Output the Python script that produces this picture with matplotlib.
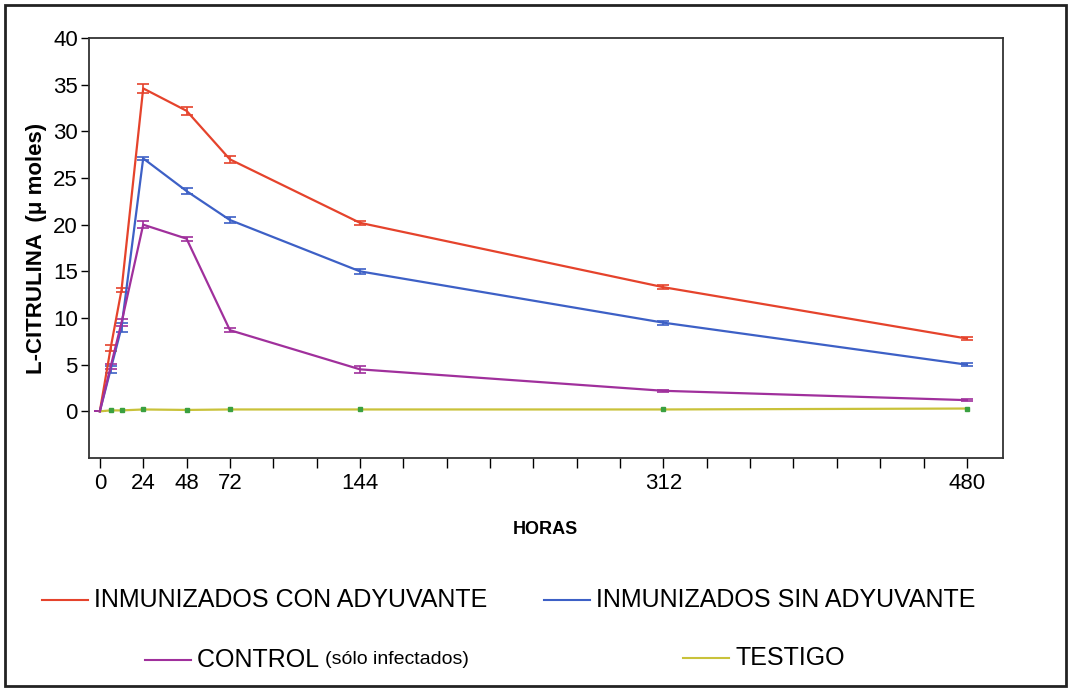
import numpy as np
import matplotlib.pyplot as plt
from matplotlib.lines import Line2D
from matplotlib.patches import Rectangle

horas = [0, 6, 12, 24, 48, 72, 144, 312, 480]

con_adyuvante = [0, 6.8, 13.0, 34.6, 32.2, 27.0, 20.2, 13.3, 7.8]
con_err = [0, 0.3, 0.2, 0.5, 0.4, 0.4, 0.2, 0.2, 0.2]

sin_adyuvante = [0, 4.5, 9.0, 27.1, 23.6, 20.5, 15.0, 9.5, 5.0]
sin_err = [0, 0.4, 0.5, 0.2, 0.3, 0.3, 0.3, 0.2, 0.15]

control = [0, 4.8, 9.5, 20.0, 18.5, 8.7, 4.5, 2.2, 1.2]
control_err = [0, 0.3, 0.4, 0.4, 0.2, 0.2, 0.4, 0.1, 0.1]

testigo = [0, 0.1, 0.1, 0.2, 0.15, 0.2, 0.2, 0.2, 0.3]

x_labels = [0, 24, 48, 72, 144, 312, 480]

c_red = '#e5432c'
c_blue = '#3d60c6'
c_purple = '#a0309c'
c_yel = '#c9c23a'
c_green = '#3aa040'

plt.rcParams['font.family'] = ['Liberation Sans', 'DejaVu Sans']

fig = plt.figure(figsize=(10.73, 6.89), dpi=100)
ax = fig.add_axes([89/1073, 1-458/689, (1003-89)/1073, (458-38)/689])

ax.errorbar(horas, con_adyuvante, yerr=con_err, color=c_red, lw=1.6, capsize=4, elinewidth=1.2, capthick=1.2)
ax.errorbar(horas, sin_adyuvante, yerr=sin_err, color=c_blue, lw=1.6, capsize=4, elinewidth=1.2, capthick=1.2)
ax.errorbar(horas, control, yerr=control_err, color=c_purple, lw=1.6, capsize=4, elinewidth=1.2, capthick=1.2)
ax.plot(horas, testigo, color=c_yel, lw=1.6)
ax.plot(horas[1:], testigo[1:], 's', color=c_green, ms=3, lw=0)

ax.set_xlim(-6, 500)
ax.set_ylim(-5, 40)
ax.set_yticks(range(0, 41, 5))
ax.set_xticks(range(0, 481, 24))
ax.set_xticklabels([str(t) if t in x_labels else '' for t in range(0, 481, 24)], fontsize=16)
ax.tick_params(axis='y', labelsize=16, length=6, width=1, pad=2)
ax.tick_params(axis='x', length=7, width=1, pad=4)
for s in ax.spines.values():
    s.set_linewidth(1.3)
    s.set_color('#333333')

ax.set_ylabel(u'L-CITRULINA  (\u03bc moles)', fontsize=16, fontweight='bold', labelpad=4)
fig.text(545/1073, 1-530/689, 'HORAS', ha='center', va='center', fontsize=13, fontweight='bold')

# legend drawn by hand below the plot
entries = [
    (c_red, 42, 600, 'INMUNIZADOS CON ADYUVANTE', None),
    (c_blue, 544, 600, 'INMUNIZADOS SIN ADYUVANTE', None),
    (c_purple, 145, 660, 'CONTROL ', '(s\u00f3lo infectados)'),
    (c_yel, 683, 658, 'TESTIGO', None),
]
for col, x0, y0, txt, small in entries:
    yy = 1 - y0/689
    fig.add_artist(Line2D([x0/1073, (x0+46)/1073], [yy, yy], color=col, lw=1.5))
    t = fig.text((x0+52)/1073, yy, txt, ha='left', va='center', fontsize=18)
    if small:
        fig.canvas.draw()
        bb = t.get_window_extent()
        fig.text(bb.x1/1073, yy, small, ha='left', va='center', fontsize=14)

fig.add_artist(Rectangle((5/1073, 3/689), 1061/1073, 681/689, transform=fig.transFigure,
                         fill=False, lw=2, ec='#222222'))

fig.savefig('out.png', dpi=100)
